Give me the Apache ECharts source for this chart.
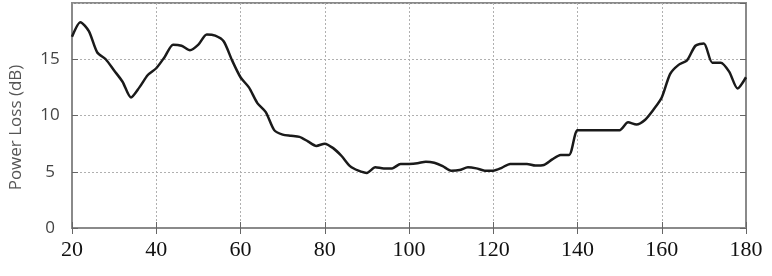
<!DOCTYPE html>
<html>
<head>
<meta charset="utf-8">
<script src="https://cdn.jsdelivr.net/npm/echarts@6/dist/echarts.min.js"></script>
<style>
html,body{margin:0;padding:0;background:#fff;}
#c{width:772px;height:276px;}
</style>
</head>
<body>
<div id="c"></div>
<script>
const angles = [20,22,24,26,28,30,32,34,36,38,40,42,44,46,48,50,52,54,56,58,60,62,64,66,68,70,72,74,76,78,80,82,84,86,88,90,92,94,96,98,100,102,104,106,108,110,112,114,116,118,120,122,124,126,128,130,132,134,136,138,140,142,144,146,148,150,152,154,156,158,160,162,164,166,168,170,172,174,176,178,180];
const powerLoss = [17.0,18.3,17.5,15.6,15.0,14.0,13.0,11.6,12.5,13.6,14.2,15.2,16.3,16.2,15.8,16.3,17.2,17.1,16.6,14.9,13.4,12.5,11.1,10.3,8.7,8.3,8.2,8.1,7.7,7.3,7.5,7.1,6.4,5.5,5.1,4.9,5.4,5.3,5.3,5.7,5.7,5.75,5.9,5.8,5.5,5.1,5.15,5.4,5.3,5.1,5.1,5.35,5.7,5.7,5.7,5.55,5.6,6.1,6.5,6.5,8.7,8.7,8.7,8.7,8.7,8.7,9.4,9.2,9.6,10.5,11.6,13.7,14.5,14.9,16.2,16.4,14.7,14.7,13.9,12.4,13.4];
const xTicks = {min:20, max:180, interval:20};
const yTicks = {min:0, max:20, interval:5};
const yName = 'Power Loss (dB)';

const chart = echarts.init(document.getElementById('c'));
const axisLineStyle = {color:'#8a8a8a', width:2};
const tickStyle = {color:'#666', width:1};
const gridStyle = {color:'#b0b0b0', type:[2,2], width:1};
chart.setOption({
  animation:false,
  grid:{left:67, right:26, top:3, bottom:48, show:true, borderColor:'#8a8a8a', borderWidth:2},
  xAxis:[{
    type:'value', min:xTicks.min, max:xTicks.max, interval:xTicks.interval,
    axisLine:{show:true, lineStyle:axisLineStyle},
    axisTick:{show:true, inside:true, length:6, lineStyle:tickStyle},
    axisLabel:{fontFamily:'Liberation Serif', fontSize:22, color:'#111', margin:11},
    splitLine:{show:true, lineStyle:gridStyle}
  },{
    type:'value', position:'top', min:xTicks.min, max:xTicks.max, interval:xTicks.interval,
    axisLine:{show:true, lineStyle:axisLineStyle},
    axisTick:{show:true, inside:true, length:6, lineStyle:tickStyle},
    axisLabel:{show:false}, splitLine:{show:false}
  }],
  yAxis:[{
    type:'value', min:yTicks.min, max:yTicks.max, interval:yTicks.interval,
    name:yName, nameLocation:'middle', nameGap:47, nameRotate:90,
    nameTextStyle:{fontFamily:'Open Sans', fontSize:17, color:'#555', padding:[0,24,0,0]},
    axisLine:{show:true, lineStyle:axisLineStyle},
    axisTick:{show:true, inside:true, length:6, lineStyle:tickStyle},
    axisLabel:{fontFamily:'Open Sans', fontSize:17, color:'#444', align:'center', margin:22, showMaxLabel:false},
    splitLine:{show:true, lineStyle:gridStyle}
  },{
    type:'value', position:'right', min:yTicks.min, max:yTicks.max, interval:yTicks.interval,
    axisLine:{show:true, lineStyle:axisLineStyle},
    axisTick:{show:true, inside:true, length:6, lineStyle:tickStyle},
    axisLabel:{show:false}, splitLine:{show:false}
  }],
  series:[{
    type:'line',
    data:angles.map((a,i)=>[a,powerLoss[i]]),
    showSymbol:false, smooth:0.25,
    lineStyle:{color:'#1a1a1a', width:2.5},
    clip:true
  }]
});
</script>
</body>
</html>
